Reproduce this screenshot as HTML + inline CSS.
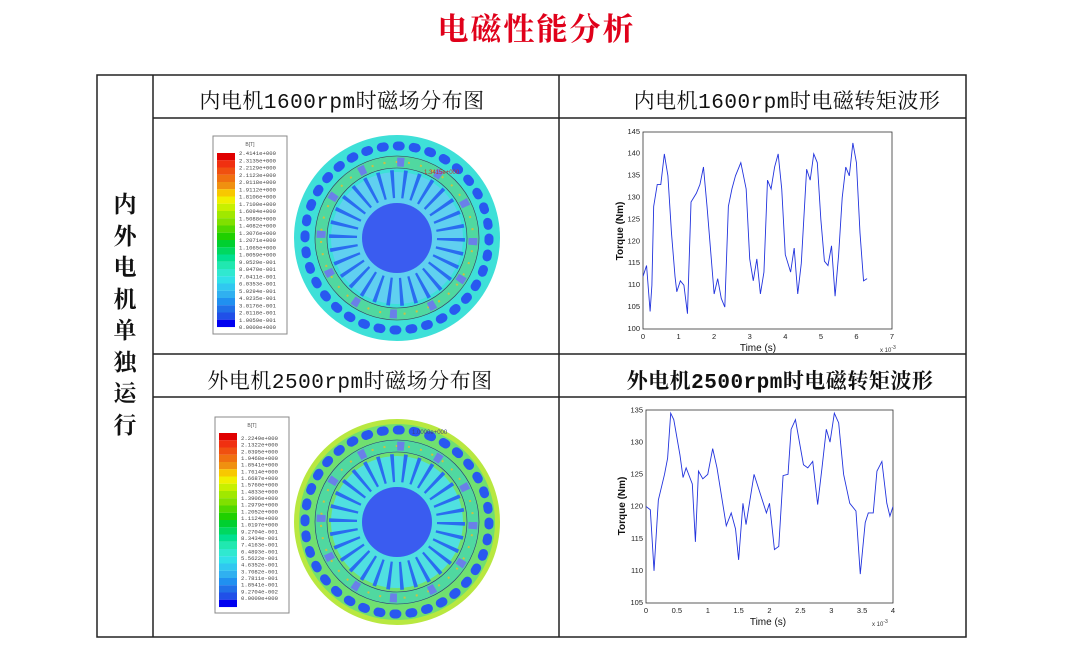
<!DOCTYPE html>
<html><head><meta charset="utf-8"><style>
body{margin:0;width:1073px;height:645px;background:#fff;overflow:hidden;position:relative;font-family:"Liberation Serif","Noto Serif CJK SC",serif}
.t{position:absolute;white-space:nowrap;font-family:"Liberation Mono","Noto Serif CJK SC",serif;font-size:21px;letter-spacing:0.5px;color:#111;text-align:center}
</style></head><body>
<div style="position:absolute;left:0;width:1073px;top:4px;text-align:center;color:#e0001a;font-size:31px;font-weight:bold;font-family:'Noto Serif CJK SC',serif;letter-spacing:2px">电磁性能分析</div>
<svg width="1073" height="645" style="position:absolute;left:0;top:0" font-family="Liberation Sans, sans-serif">
<g stroke="#222" stroke-width="1.5" fill="none">
<rect x="97" y="75" width="869" height="562"/>
<line x1="153" y1="75" x2="153" y2="637"/>
<line x1="559" y1="75" x2="559" y2="637"/>
<line x1="153" y1="118" x2="966" y2="118"/>
<line x1="153" y1="354" x2="966" y2="354"/>
<line x1="153" y1="397" x2="966" y2="397"/>
</g>
<defs>
<g id="bar">
<rect x="0" y="0" width="18" height="7.3" fill="#e00000"/><rect x="0" y="7.25" width="18" height="7.3" fill="#f03010"/><rect x="0" y="14.5" width="18" height="7.3" fill="#f05010"/><rect x="0" y="21.75" width="18" height="7.3" fill="#f07010"/><rect x="0" y="29" width="18" height="7.3" fill="#f09010"/><rect x="0" y="36.25" width="18" height="7.3" fill="#f8c800"/><rect x="0" y="43.5" width="18" height="7.3" fill="#f0f000"/><rect x="0" y="50.75" width="18" height="7.3" fill="#c8f000"/><rect x="0" y="58" width="18" height="7.3" fill="#a0e800"/><rect x="0" y="65.25" width="18" height="7.3" fill="#80e000"/><rect x="0" y="72.5" width="18" height="7.3" fill="#50d800"/><rect x="0" y="79.75" width="18" height="7.3" fill="#20d000"/><rect x="0" y="87" width="18" height="7.3" fill="#00d030"/><rect x="0" y="94.25" width="18" height="7.3" fill="#00d860"/><rect x="0" y="101.5" width="18" height="7.3" fill="#00e090"/><rect x="0" y="108.75" width="18" height="7.3" fill="#20e8b0"/><rect x="0" y="116" width="18" height="7.3" fill="#30e8d0"/><rect x="0" y="123.25" width="18" height="7.3" fill="#30e0e8"/><rect x="0" y="130.5" width="18" height="7.3" fill="#30c8f0"/><rect x="0" y="137.75" width="18" height="7.3" fill="#30b0f0"/><rect x="0" y="145" width="18" height="7.3" fill="#2090f0"/><rect x="0" y="152.25" width="18" height="7.3" fill="#2070e8"/><rect x="0" y="159.5" width="18" height="7.3" fill="#2050e8"/><rect x="0" y="166.75" width="18" height="7.3" fill="#0000f0"/>
</g>
<g id="motorbody">
<circle r="54" fill="none" stroke="#2a6cf0" stroke-width="28" stroke-dasharray="3 8.3"/>
<circle r="35" fill="#3a5cf0"/>
<circle r="76" fill="none" stroke="#50d8a0" stroke-width="13"/>
<circle r="70" fill="none" stroke="#336" stroke-width="0.6"/>
<circle r="82" fill="none" stroke="#336" stroke-width="0.6"/>
<circle r="76" fill="none" stroke="#d0c040" stroke-width="2" stroke-dasharray="2 10.3"/>
<circle r="76" fill="none" stroke="#6a80e8" stroke-width="9" stroke-dasharray="7 32.8"/>
<circle r="92" fill="none" stroke="#2858f0" stroke-width="9" stroke-linecap="round" stroke-dasharray="3 13.06"/>
</g>
</defs>
<!-- motor 1 -->
<rect x="213" y="136" width="74" height="198" fill="#fff" stroke="#888"/>
<text x="250" y="146" font-size="5" text-anchor="middle" fill="#555">B[T]</text>
<use href="#bar" x="217" y="153"/>
<g font-family="Liberation Mono, monospace" font-size="5.6" fill="#444">
<text x="239" y="155">2.4141e+000</text><text x="239" y="162.3">2.3135e+000</text><text x="239" y="169.5">2.2129e+000</text><text x="239" y="176.8">2.1123e+000</text><text x="239" y="184">2.0118e+000</text><text x="239" y="191.3">1.9112e+000</text><text x="239" y="198.5">1.8106e+000</text><text x="239" y="205.8">1.7100e+000</text><text x="239" y="213">1.6094e+000</text><text x="239" y="220.3">1.5088e+000</text><text x="239" y="227.5">1.4082e+000</text><text x="239" y="234.8">1.3076e+000</text><text x="239" y="242">1.2071e+000</text><text x="239" y="249.3">1.1065e+000</text><text x="239" y="256.5">1.0059e+000</text><text x="239" y="263.8">9.0529e-001</text><text x="239" y="271">8.0470e-001</text><text x="239" y="278.3">7.0411e-001</text><text x="239" y="285.5">6.0353e-001</text><text x="239" y="292.8">5.0294e-001</text><text x="239" y="300">4.0235e-001</text><text x="239" y="307.3">3.0176e-001</text><text x="239" y="314.5">2.0118e-001</text><text x="239" y="321.8">1.0059e-001</text><text x="239" y="329">0.0000e+000</text>
</g>
<g transform="translate(397,238)">
<circle r="103" fill="#3ee0d8"/>
<circle r="66" fill="#60d0f0"/>
<use href="#motorbody"/>
</g>
<text x="424" y="174" font-size="6" fill="#c03030">1.3415e+000</text>
<!-- motor 2 -->
<rect x="215" y="417" width="74" height="196" fill="#fff" stroke="#888"/>
<text x="252" y="427" font-size="5" text-anchor="middle" fill="#555">B[T]</text>
<use href="#bar" x="219" y="433"/>
<g font-family="Liberation Mono, monospace" font-size="5.6" fill="#444">
<text x="241" y="440">2.2249e+000</text><text x="241" y="446.7">2.1322e+000</text><text x="241" y="453.3">2.0395e+000</text><text x="241" y="460">1.9468e+000</text><text x="241" y="466.7">1.8541e+000</text><text x="241" y="473.3">1.7614e+000</text><text x="241" y="480">1.6687e+000</text><text x="241" y="486.7">1.5760e+000</text><text x="241" y="493.3">1.4833e+000</text><text x="241" y="500">1.3906e+000</text><text x="241" y="506.7">1.2979e+000</text><text x="241" y="513.3">1.2052e+000</text><text x="241" y="520">1.1124e+000</text><text x="241" y="526.7">1.0197e+000</text><text x="241" y="533.3">9.2704e-001</text><text x="241" y="540">8.3434e-001</text><text x="241" y="546.7">7.4163e-001</text><text x="241" y="553.3">6.4893e-001</text><text x="241" y="560">5.5622e-001</text><text x="241" y="566.7">4.6352e-001</text><text x="241" y="573.3">3.7082e-001</text><text x="241" y="580">2.7811e-001</text><text x="241" y="586.7">1.8541e-001</text><text x="241" y="593.3">9.2704e-002</text><text x="241" y="600">0.0000e+000</text>
</g>
<g transform="translate(397,522)">
<circle r="103" fill="#b8e840"/>
<circle r="98" fill="#70e070"/>
<circle r="66" fill="#50e0e0"/>
<use href="#motorbody"/>
</g>
<text x="412" y="434" font-size="6" fill="#404080">1.0000e+000</text>
<!-- plot 1 -->
<rect x="643" y="132" width="249" height="197" fill="#fff" stroke="#333" stroke-width="0.8"/>
<svg x="643" y="132" width="249" height="197" viewBox="0 0 7 45" preserveAspectRatio="none">
<polyline vector-effect="non-scaling-stroke" fill="none" stroke="#2233dd" stroke-width="0.9" points="0,33 0.1,30.5 0.2,41 0.25,35 0.3,17 0.4,12 0.5,12 0.6,5 0.7,10 0.8,23 0.9,33 0.95,36.5 1.05,34 1.15,35 1.25,41.5 1.35,16 1.5,14 1.6,12 1.7,8 1.8,17 1.9,27 2.0,37 2.1,33.5 2.2,38 2.3,40 2.4,17 2.5,13 2.6,10 2.75,7 2.9,13 3.0,29 3.1,34 3.2,29 3.3,37 3.4,32 3.5,11 3.6,13 3.7,8 3.8,5 3.9,13 4.0,28 4.15,32 4.25,26.5 4.35,37 4.45,30 4.6,8.5 4.7,11 4.8,5 4.9,7 5.0,20 5.1,29.5 5.2,30.5 5.3,26 5.4,37.5 5.5,28 5.6,15 5.7,8 5.8,10 5.9,2.5 6.0,7 6.1,23 6.2,34 6.3,33.5"/>
</svg>
<g font-size="7.5" fill="#222" text-anchor="end">
<text x="640" y="331">100</text><text x="640" y="309">105</text><text x="640" y="287">110</text><text x="640" y="265">115</text><text x="640" y="243.5">120</text><text x="640" y="221.5">125</text><text x="640" y="199.5">130</text><text x="640" y="177.5">135</text><text x="640" y="155.5">140</text><text x="640" y="134">145</text>
</g>
<g font-size="7.5" fill="#222" text-anchor="middle">
<text x="643" y="339">0</text><text x="678.6" y="339">1</text><text x="714.1" y="339">2</text><text x="749.7" y="339">3</text><text x="785.3" y="339">4</text><text x="820.9" y="339">5</text><text x="856.4" y="339">6</text><text x="892" y="339">7</text>
</g>
<text x="758" y="351" font-size="10" text-anchor="middle" fill="#111">Time (s)</text>
<text x="880" y="352" font-size="6" fill="#333">x 10<tspan dy="-3" font-size="5">-3</tspan></text>
<text transform="translate(623,231) rotate(-90)" font-size="10" font-weight="bold" text-anchor="middle" fill="#111">Torque (Nm)</text>
<!-- plot 2 -->
<rect x="646" y="410" width="247" height="193" fill="#fff" stroke="#333" stroke-width="0.8"/>
<svg x="646" y="410" width="247" height="193" viewBox="0 0 4 30" preserveAspectRatio="none">
<polyline vector-effect="non-scaling-stroke" fill="none" stroke="#2233dd" stroke-width="0.9" points="0,15 0.07,15.5 0.13,25 0.2,14 0.3,10 0.35,7.5 0.4,0.5 0.45,1.5 0.55,7 0.6,10.5 0.65,9 0.75,11.5 0.8,20.5 0.85,9.5 0.92,10.7 1.0,10 1.08,6 1.15,9 1.3,18 1.38,16 1.45,18.5 1.5,23.3 1.57,14.5 1.62,17.8 1.75,10 1.85,13 1.95,16 2.0,14.5 2.08,21.7 2.15,21.2 2.22,10.2 2.3,10 2.35,3 2.42,1.5 2.55,8.5 2.62,9 2.7,8 2.78,14.7 2.85,9 2.92,3 2.98,5 3.05,0.5 3.12,2 3.2,10 3.3,14.5 3.4,15.7 3.47,25.5 3.55,17.5 3.6,16 3.68,16 3.74,9.5 3.82,8 3.9,14.5 3.95,16.5 4.0,15"/>
</svg>
<g font-size="7.5" fill="#222" text-anchor="end">
<text x="643" y="605">105</text><text x="643" y="573">110</text><text x="643" y="541">115</text><text x="643" y="508.5">120</text><text x="643" y="476.5">125</text><text x="643" y="444.5">130</text><text x="643" y="412.5">135</text>
</g>
<g font-size="7.5" fill="#222" text-anchor="middle">
<text x="646" y="613">0</text><text x="676.9" y="613">0.5</text><text x="707.8" y="613">1</text><text x="738.6" y="613">1.5</text><text x="769.5" y="613">2</text><text x="800.4" y="613">2.5</text><text x="831.3" y="613">3</text><text x="862.1" y="613">3.5</text><text x="893" y="613">4</text>
</g>
<text x="768" y="625" font-size="10" text-anchor="middle" fill="#111">Time (s)</text>
<text x="872" y="626" font-size="6" fill="#333">x 10<tspan dy="-3" font-size="5">-3</tspan></text>
<text transform="translate(625,506) rotate(-90)" font-size="10" font-weight="bold" text-anchor="middle" fill="#111">Torque (Nm)</text>
</svg>
<div class="t" style="left:139px;width:406px;top:85px">内电机1600rpm时磁场分布图</div>
<div class="t" style="left:559px;width:456px;top:85px">内电机1600rpm时电磁转矩波形</div>
<div class="t" style="left:147px;width:406px;top:365px">外电机2500rpm时磁场分布图</div>
<div class="t" style="left:552px;width:456px;top:365px;font-weight:bold">外电机2500rpm时电磁转矩波形</div>
<div style="position:absolute;left:97px;width:56px;top:187px;text-align:center;font-family:'Noto Serif CJK SC',serif;font-size:23px;line-height:31.5px;font-weight:bold;color:#111">内<br>外<br>电<br>机<br>单<br>独<br>运<br>行</div>
</body></html>
